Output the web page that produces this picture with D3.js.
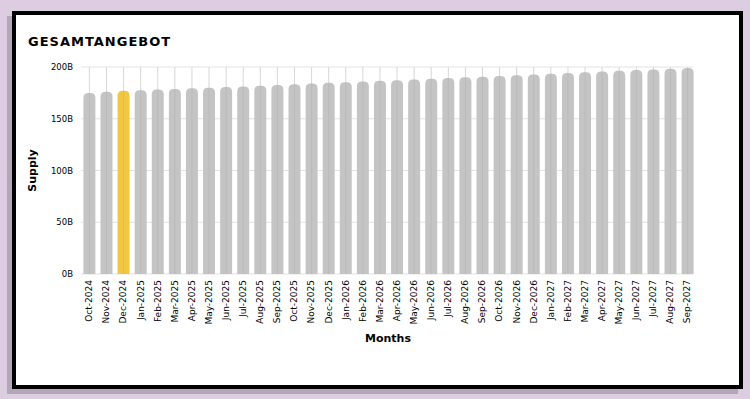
<!DOCTYPE html>
<html>
<head>
<meta charset="utf-8">
<script src="https://cdn.jsdelivr.net/npm/d3@7"></script>
<style>
  body { margin: 0; background: #dccde0; }
  #card {
    position: absolute; left: 12px; top: 11px;
    width: 723px; height: 370px;
    background: #fff; border: 4px solid #000;
    box-shadow: -5px 5px 0 #b4a5b8;
  }
  svg { display: block; font-family: "DejaVu Sans", sans-serif; }
</style>
</head>
<body>
<div id="card"><svg id="chart" width="723" height="370"></svg></div>
<script>
// months shown on the x axis
const months = ['Oct-2024','Nov-2024','Dec-2024','Jan-2025','Feb-2025','Mar-2025','Apr-2025','May-2025',
  'Jun-2025','Jul-2025','Aug-2025','Sep-2025','Oct-2025','Nov-2025','Dec-2025','Jan-2026','Feb-2026',
  'Mar-2026','Apr-2026','May-2026','Jun-2026','Jul-2026','Aug-2026','Sep-2026','Oct-2026','Nov-2026',
  'Dec-2026','Jan-2027','Feb-2027','Mar-2027','Apr-2027','May-2027','Jun-2027','Jul-2027','Aug-2027','Sep-2027'];
// supply in billions
const supply = [175.0, 176.0, 177.0, 177.5, 178.2, 178.8, 179.4, 180.0, 180.6, 181.2, 182.0, 182.7,
  183.3, 184.0, 184.7, 185.3, 186.0, 186.7, 187.3, 188.0, 188.7, 189.3, 190.0, 190.7,
  191.4, 192.1, 192.8, 193.5, 194.2, 194.9, 195.6, 196.3, 197.0, 197.7, 198.4, 199.0];
const yTicks = [0, 50, 100, 150, 200];
const highlight = 'Dec-2024';

const data = months.map((m, i) => ({ month: m, value: supply[i] }));

const svg = d3.select('#chart');
// card inner origin is at page (16,15)
const margin = { top: 52, left: 64 };
const plotW = 617, plotH = 207;
const g = svg.append('g').attr('transform', `translate(${margin.left}, ${margin.top})`);

const x = d3.scaleBand().domain(months).range([0, plotW]).paddingInner(0.3).paddingOuter(0.2);
const y = d3.scaleLinear().domain([0, 200]).range([plotH, 0]);

// title
svg.append('text')
  .attr('x', 12).attr('y', 31)
  .attr('font-size', 13).attr('font-weight', 'bold')
  .attr('letter-spacing', 1)
  .text('GESAMTANGEBOT');

// horizontal grid
g.append('g').selectAll('line').data(yTicks).join('line')
  .attr('x1', 1).attr('x2', plotW - 4)
  .attr('y1', d => y(d)).attr('y2', d => y(d))
  .attr('stroke', '#e3e3e3');

// vertical grid
g.append('g').selectAll('line').data(months).join('line')
  .attr('x1', d => x(d) + x.bandwidth() / 2).attr('x2', d => x(d) + x.bandwidth() / 2)
  .attr('y1', 0).attr('y2', plotH)
  .attr('stroke', '#e3e3e3');

// bars with rounded tops
const r = 5;
g.append('g').selectAll('path').data(data).join('path')
  .attr('d', d => {
    const x0 = x(d.month), w = x.bandwidth(), y0 = y(d.value), y1 = y(0);
    return `M${x0},${y1}V${y0 + r}Q${x0},${y0} ${x0 + r},${y0}H${x0 + w - r}Q${x0 + w},${y0} ${x0 + w},${y0 + r}V${y1}Z`;
  })
  .attr('fill', d => d.month === highlight ? '#f2c744' : '#c4c4c4');

// faint grid line showing through the bars
g.append('g').selectAll('line').data(months).join('line')
  .attr('x1', d => x(d) + x.bandwidth() / 2).attr('x2', d => x(d) + x.bandwidth() / 2)
  .attr('y1', 0).attr('y2', plotH)
  .attr('stroke', 'rgba(0,0,0,0.05)');

// y axis
const yAxis = g.append('g').attr('transform', 'translate(1,0)')
  .call(d3.axisLeft(y).tickValues(yTicks).tickFormat(d => d + 'B').tickSize(0).tickPadding(8));
yAxis.select('.domain').remove();
yAxis.selectAll('text').attr('font-size', 8.5).attr('font-family', '"DejaVu Sans", sans-serif').attr('fill', '#000');

// x axis
const xAxis = g.append('g').attr('transform', `translate(0, ${plotH})`)
  .call(d3.axisBottom(x).tickSize(0).tickPadding(6));
xAxis.select('.domain').remove();
xAxis.selectAll('text')
  .attr('font-size', 9).attr('font-family', '"DejaVu Sans", sans-serif').attr('fill', '#000')
  .attr('transform', 'rotate(-90)')
  .attr('text-anchor', 'end')
  .attr('dy', '0.32em')
  .attr('x', -6).attr('y', 0);

// axis titles
svg.append('text')
  .attr('transform', `translate(20, ${margin.top + plotH / 2}) rotate(-90)`)
  .attr('text-anchor', 'middle')
  .attr('font-size', 11).attr('font-weight', 'bold')
  .text('Supply');

svg.append('text')
  .attr('x', 372).attr('y', 327)
  .attr('text-anchor', 'middle')
  .attr('font-size', 11).attr('font-weight', 'bold')
  .text('Months');
</script>
</body>
</html>
